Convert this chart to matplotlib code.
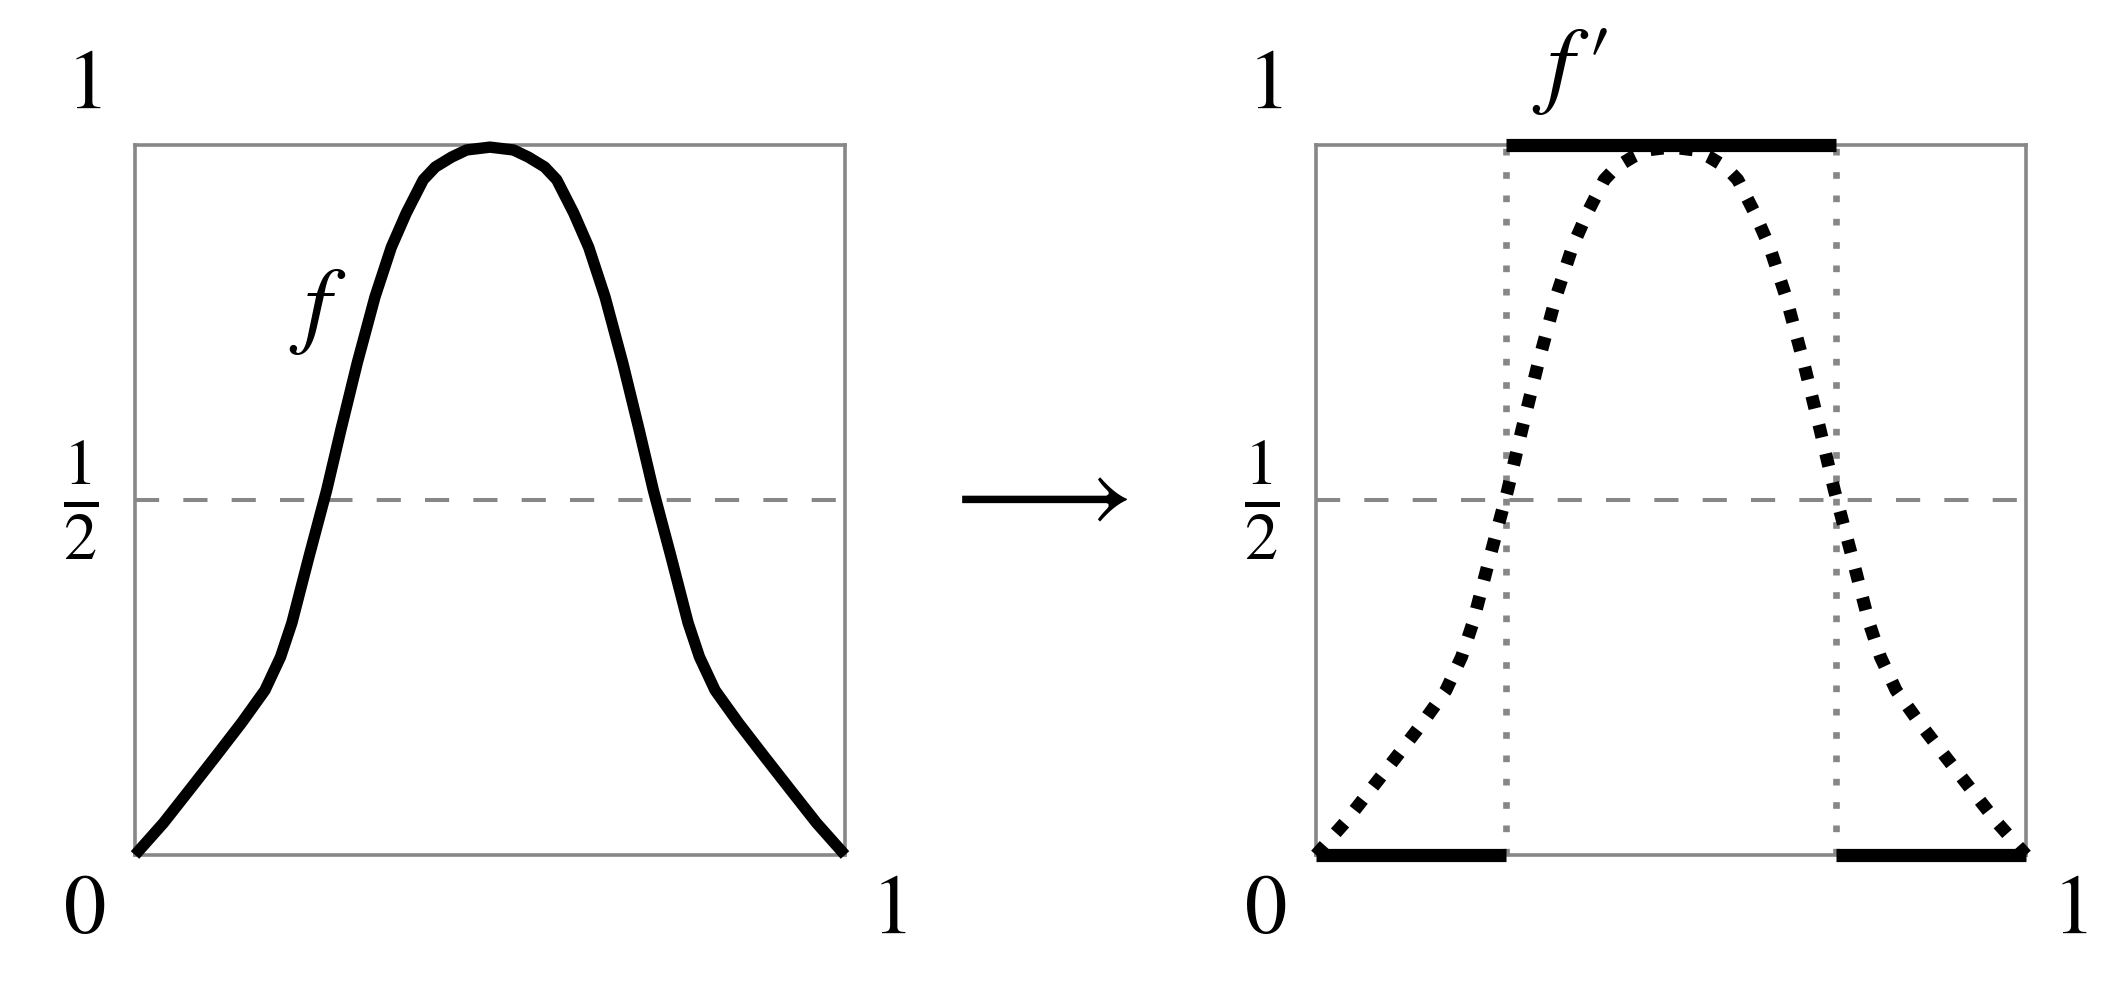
import matplotlib
matplotlib.use("Agg")
import matplotlib.pyplot as plt

plt.rcParams['mathtext.fontset'] = 'stix'
plt.rcParams['font.family'] = ['STIXGeneral', 'DejaVu Serif']

# curve f
f_x = [0.0, 0.040, 0.077, 0.113, 0.150, 0.183, 0.205, 0.221, 0.245, 0.270, 0.290,
       0.313, 0.338, 0.361, 0.382, 0.406, 0.423, 0.446, 0.467, 0.5,
       0.533, 0.554, 0.577, 0.594, 0.618, 0.639, 0.662, 0.687, 0.710, 0.730, 0.755, 0.779,
       0.795, 0.817, 0.850, 0.887, 0.923, 0.960, 1.0]
f_y = [0.0, 0.045, 0.092, 0.138, 0.186, 0.232, 0.279, 0.327, 0.420, 0.514, 0.599,
       0.693, 0.786, 0.856, 0.904, 0.951, 0.969, 0.983, 0.993, 0.997,
       0.993, 0.983, 0.969, 0.951, 0.904, 0.856, 0.786, 0.693, 0.599, 0.514, 0.420, 0.327,
       0.279, 0.232, 0.186, 0.138, 0.092, 0.045, 0.0]

# where f crosses 1/2
cut_lo = 0.267
cut_hi = 0.733
half = 0.5

gray = '#878787'
lab_fs = 61
f_fs = 70

fig = plt.figure(figsize=(21.17, 9.86), dpi=100)
axL = fig.add_axes([135/2117, 131/986, 710/2117, 710/986])
axR = fig.add_axes([1316/2117, 131/986, 710/2117, 710/986])

for ax in (axL, axR):
    ax.set_xlim(0, 1)
    ax.set_ylim(0, 1)
    ax.set_xticks([])
    ax.set_yticks([])
    for s in ax.spines.values():
        s.set_color(gray)
        s.set_linewidth(2.6)
    ax.plot([0, 1], [half, half], color=gray, lw=2.9,
            linestyle=(0, (6, 6)), zorder=1)
    ax.text(-0.072, 1.081, '$1$', fontsize=lab_fs, ha='center', va='center')
    ax.text(-0.072, -0.082, '$0$', fontsize=lab_fs, ha='center', va='center')
    ax.text(1.062, -0.082, '$1$', fontsize=lab_fs, ha='center', va='center')
    ax.text(-0.076, 0.5, r'$\frac{1}{2}$', fontsize=lab_fs*1.12, ha='center', va='center')

# left: f
axL.plot(f_x, f_y, color='black', lw=8.2, clip_on=False, zorder=3,
         solid_capstyle='butt', solid_joinstyle='round')
axL.text(0.257, 0.766, '$f$', fontsize=f_fs, ha='center', va='center')

# right: thresholded f'
axR.plot(f_x, f_y, color='black', lw=9.3, clip_on=False, zorder=3,
         linestyle=(0, (1, 1.3)))
for xc in (cut_lo, cut_hi):
    axR.plot([xc, xc], [0, 1], color=gray, lw=4.8, linestyle=(0, (1, 2.5)), zorder=2)
axR.plot([0, cut_lo], [0, 0], color='black', lw=9.5, clip_on=False, zorder=4,
         solid_capstyle='butt')
axR.plot([cut_lo, cut_hi], [1, 1], color='black', lw=9.5, clip_on=False, zorder=4,
         solid_capstyle='butt')
axR.plot([cut_hi, 1], [0, 0], color='black', lw=9.5, clip_on=False, zorder=4,
         solid_capstyle='butt')
axR.text(0.358, 1.103, r'$f\,\prime$', fontsize=f_fs, ha='center', va='center')

fig.text(1034/2117, 1 - 500/986, r'$\longrightarrow$', fontsize=81,
         ha='center', va='center')

fig.savefig('out.png', dpi=100)
